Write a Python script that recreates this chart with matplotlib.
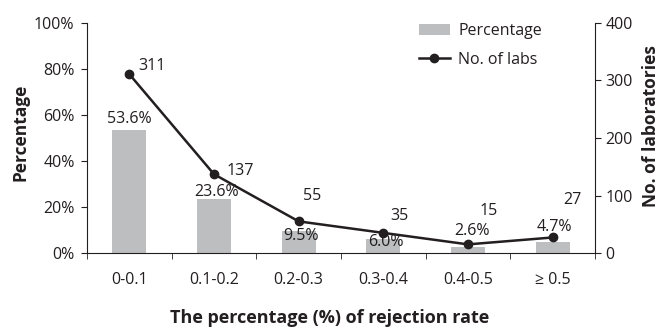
import numpy as np
import matplotlib.pyplot as plt

categories = ['0-0.1', '0.1-0.2', '0.2-0.3', '0.3-0.4', '0.4-0.5', '\u2265 0.5']
percentages = [53.6, 23.6, 9.5, 6.0, 2.6, 4.7]
labs = [311, 137, 55, 35, 15, 27]

plt.rcParams['font.family'] = ['Open Sans', 'DejaVu Sans']
plt.rcParams['font.size'] = 11.5

fig = plt.figure(figsize=(6.61, 3.35), dpi=100)
ax = fig.add_axes([87/661, 1-253/335, 508/661, 230/335])
x = np.arange(len(categories))

dark = '#231f20'
ax.bar(x, percentages, width=0.4, color='#bcbec0', label='Percentage', zorder=1)
ax.set_xlim(-0.5, 5.5)
ax.set_ylim(0, 100)
ax.set_yticks([0, 20, 40, 60, 80, 100])
ax.set_yticklabels(['%d%%' % v for v in [0, 20, 40, 60, 80, 100]])
ax.set_xticks(x)
ax.set_xticklabels(categories)
ax.set_xticks(np.arange(-0.5, 6, 1), minor=True)
ax.tick_params(axis='x', which='major', length=0, pad=14, colors=dark)
ax.tick_params(axis='x', which='minor', length=4, direction='out', color=dark)
ax.tick_params(axis='y', length=4, pad=5, color=dark, labelcolor=dark)
ax.spines['top'].set_visible(False)
ax.spines['right'].set_visible(False)
for s in ['left', 'bottom']:
    ax.spines[s].set_color(dark)
ax.set_ylabel('Percentage', fontweight='bold', fontsize=12.5, color=dark)
ax.yaxis.set_label_coords(-0.114, 0.526)
ax.set_xlabel('The percentage (%) of rejection rate', fontweight='bold', fontsize=13, color=dark)
ax.xaxis.set_label_coords(0.478, -0.245)

# percentage labels, offsets in points
poff = [(0, 8), (1.5, 5), (2, -3.6), (2, -2), (3, 11.5), (1.5, 11)]
for i, p in enumerate(percentages):
    ax.annotate('%.1f%%' % p, (x[i], p), xytext=poff[i], textcoords='offset points',
                ha='center', va='center', color=dark)

ax2 = ax.twinx()
ax2.plot(x, labs, color=dark, lw=1.8, marker='o', ms=6, label='No. of labs', zorder=3)
ax2.set_ylim(0, 400)
ax2.set_yticks([0, 100, 200, 300, 400])
ax2.tick_params(axis='y', length=4, color=dark, labelcolor=dark)
ax2.spines['top'].set_visible(False)
ax2.spines['left'].set_visible(False)
ax2.spines['bottom'].set_visible(False)
ax2.spines['right'].set_color(dark)
ax2.set_ylabel('No. of laboratories', fontweight='bold', fontsize=12.5, color=dark)
ax2.yaxis.set_label_coords(1.092, 0.552)

loff = [(16.5, 6), (19, 2), (10, 18), (11.5, 12), (15, 24), (14, 27)]
for i, n in enumerate(labs):
    ax2.annotate(str(n), (x[i], n), xytext=loff[i], textcoords='offset points',
                 ha='center', va='center', color=dark)

h1, l1 = ax.get_legend_handles_labels()
h2, l2 = ax2.get_legend_handles_labels()
ax2.legend(h1 + h2, l1 + l2, loc='upper left', bbox_to_anchor=(0.654, 1.0),
           frameon=False, handlelength=1.9, handletextpad=0.55, labelspacing=0.8,
           borderpad=0, borderaxespad=0, fontsize=11.5, labelcolor=dark)

fig.savefig('out.png', dpi=100)
